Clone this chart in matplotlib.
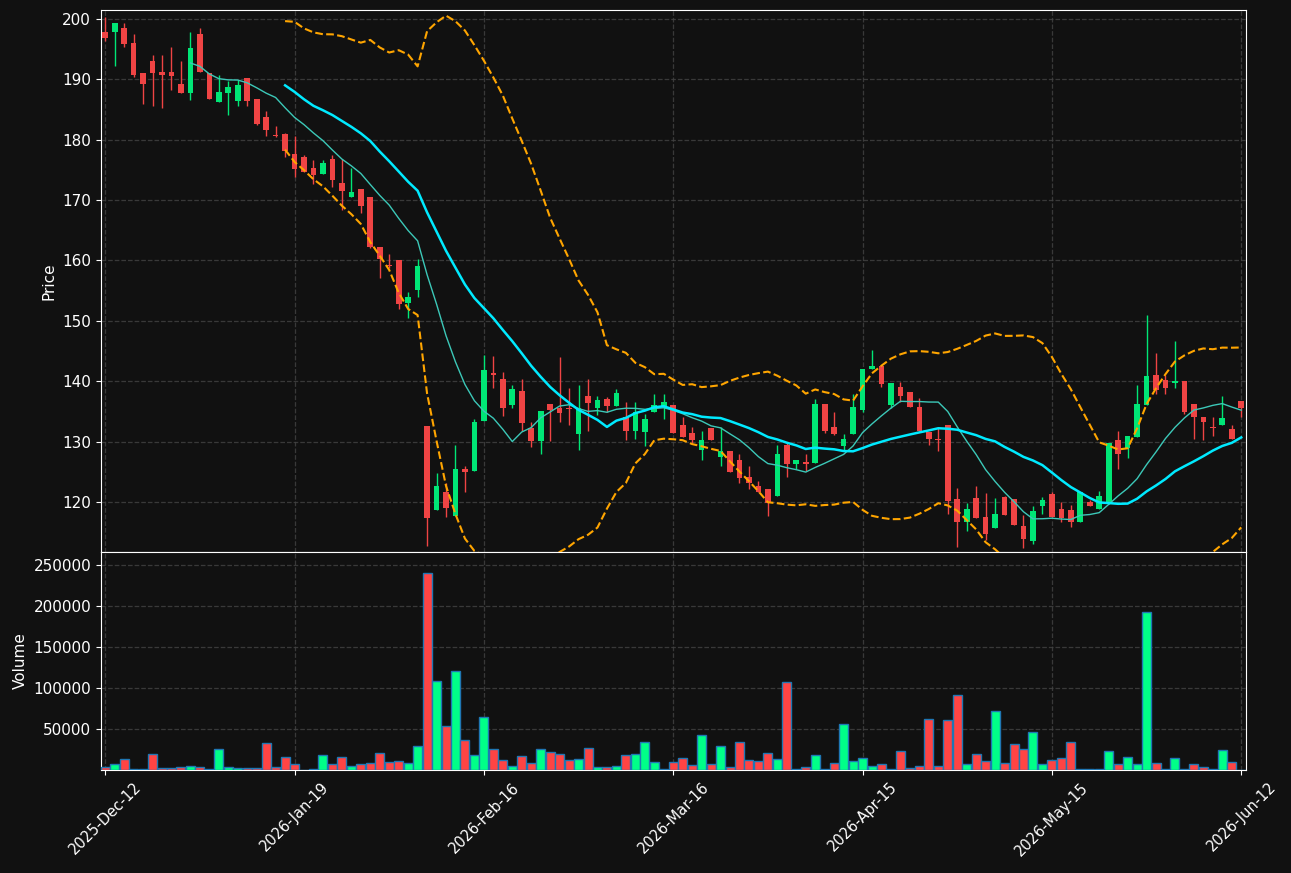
import numpy as np
import matplotlib
matplotlib.use("Agg")
import matplotlib.pyplot as plt

# OHLC + volume, one entry per session
opens = [197.9, 197.8, 198.5, 196.0, 191.0, 193.0, 191.3, 191.3, 189.2, 187.8,
         197.5, 191.0, 186.2, 187.7, 186.4, 190.2, 186.7, 183.7, 180.8, 181.0,
         177.6, 177.2, 175.4, 174.3, 176.9, 172.8, 170.5, 171.8, 170.6, 162.2,
         159.3, 160.1, 152.9, 155.1, 132.5, 118.6, 121.7, 117.6, 125.5, 125.2,
         133.4, 141.4, 140.4, 136.1, 138.4, 132.3, 130.1, 136.2, 135.6, 135.6,
         131.3, 137.6, 135.6, 137.0, 135.9, 134.0, 131.8, 131.6, 134.9, 135.9,
         136.1, 132.8, 131.4, 128.6, 132.3, 127.5, 128.5, 127.0, 124.1, 122.7,
         122.1, 121.0, 129.4, 126.2, 126.6, 126.5, 136.2, 132.4, 129.3, 131.3,
         135.2, 142.0, 142.5, 136.0, 139.0, 138.2, 135.7, 131.6, 130.4, 132.7,
         120.4, 116.7, 120.6, 117.5, 115.7, 120.8, 120.4, 116.0, 113.6, 119.4,
         121.3, 118.9, 118.7, 116.6, 120.0, 118.9, 119.6, 130.2, 128.9, 130.8,
         136.1, 141.0, 140.2, 139.7, 140.1, 136.2, 134.0, 132.4, 132.8, 132.0,
         136.8]
highs = [200.3, 199.3, 199.3, 197.5, 191.0, 194.0, 194.0, 195.4, 193.1, 197.9,
         198.5, 191.0, 190.8, 189.7, 189.9, 190.2, 186.7, 184.8, 182.3, 181.2,
         180.6, 177.4, 176.6, 176.6, 177.4, 176.9, 175.3, 171.8, 170.6, 162.2,
         161.0, 160.1, 154.8, 160.2, 132.5, 124.8, 123.1, 129.5, 125.9, 133.7,
         144.4, 144.2, 141.5, 139.3, 140.3, 133.3, 135.1, 136.2, 144.0, 138.8,
         139.3, 140.3, 137.5, 137.3, 138.7, 136.6, 136.6, 134.5, 137.9, 137.9,
         136.1, 134.0, 132.4, 131.7, 132.3, 132.4, 128.5, 127.9, 126.0, 123.5,
         122.1, 129.4, 129.7, 127.0, 127.9, 137.1, 136.2, 134.9, 131.3, 137.9,
         142.0, 145.2, 142.5, 139.7, 139.9, 138.2, 137.2, 131.6, 132.2, 132.7,
         122.3, 119.9, 122.7, 121.5, 120.6, 121.0, 120.4, 117.8, 119.4, 120.8,
         121.7, 120.0, 119.5, 121.6, 120.3, 121.8, 129.8, 131.8, 131.0, 139.4,
         151.0, 144.7, 141.1, 146.7, 140.1, 136.2, 134.0, 134.0, 137.6, 132.8,
         136.8]
lows = [196.3, 192.2, 195.3, 190.4, 186.0, 185.6, 185.2, 188.2, 187.8, 186.6,
        191.2, 186.7, 186.2, 184.1, 185.6, 185.6, 182.4, 180.7, 180.4, 177.2,
        173.8, 174.7, 172.6, 174.3, 172.2, 168.4, 170.5, 167.8, 162.1, 157.1,
        158.7, 152.0, 150.5, 154.0, 112.7, 118.6, 117.5, 117.6, 121.7, 125.2,
        133.4, 138.9, 134.3, 135.6, 131.8, 129.1, 128.0, 130.1, 133.3, 132.7,
        128.6, 131.8, 134.4, 134.9, 135.9, 130.3, 130.4, 129.3, 134.9, 133.8,
        131.4, 130.7, 129.7, 127.0, 130.2, 125.9, 124.9, 123.1, 122.1, 121.7,
        117.6, 121.0, 124.1, 125.5, 125.1, 126.5, 131.4, 131.1, 128.6, 131.3,
        134.9, 142.0, 139.1, 135.6, 136.6, 135.8, 131.8, 129.4, 128.4, 118.0,
        112.6, 115.1, 117.4, 113.7, 115.7, 117.9, 116.1, 112.3, 113.0, 118.0,
        117.5, 116.7, 115.9, 116.6, 119.3, 118.9, 119.6, 125.5, 127.2, 130.8,
        136.1, 137.9, 137.9, 138.9, 134.6, 130.5, 130.2, 130.9, 132.8, 130.5,
        134.1]
closes = [196.8, 199.3, 195.8, 190.8, 189.3, 191.0, 190.8, 190.5, 187.8, 195.2,
          191.2, 186.7, 188.0, 188.8, 189.0, 186.4, 182.6, 181.6, 180.6, 178.2,
          175.2, 174.7, 174.2, 176.1, 173.4, 171.5, 171.3, 169.0, 162.3, 160.2,
          159.1, 152.8, 153.9, 159.1, 117.3, 122.7, 119.0, 125.5, 124.9, 133.3,
          141.9, 141.1, 135.6, 138.7, 133.1, 130.1, 135.1, 135.3, 134.7, 135.4,
          135.6, 136.4, 136.9, 135.9, 138.1, 131.8, 134.9, 133.7, 136.1, 136.6,
          131.4, 130.7, 130.3, 130.3, 130.2, 128.5, 124.9, 123.9, 123.1, 121.7,
          119.9, 128.0, 126.2, 127.0, 126.2, 136.2, 131.8, 131.3, 130.4, 135.7,
          142.0, 142.5, 139.6, 139.7, 137.5, 135.8, 131.8, 130.5, 130.3, 120.1,
          116.6, 118.8, 117.4, 114.6, 118.0, 117.9, 116.1, 113.9, 118.5, 120.3,
          117.5, 117.4, 116.6, 121.6, 119.3, 121.0, 129.8, 128.0, 131.0, 136.2,
          140.8, 138.5, 138.9, 140.0, 134.9, 134.1, 133.3, 132.3, 133.9, 130.5,
          135.6]
volumes = [4000, 6900, 13000, 1600, 1600, 19100, 2800, 2800, 4000, 5300,
           4000, 1600, 25200, 4000, 2800, 2800, 2800, 32500, 4000, 15400,
           6900, 500, 1600, 17900, 6900, 15400, 5300, 6900, 8100, 20300,
           9300, 10600, 8100, 28900, 239800, 108100, 53300, 120300, 36200, 17900,
           64200, 26000, 11800, 5300, 16700, 8100, 25200, 21500, 19100, 11800,
           13000, 26400, 4000, 4000, 5300, 17900, 19100, 33700, 9300, 800,
           9300, 14200, 5700, 42300, 6900, 28900, 3300, 33700, 11800, 10600,
           20300, 13000, 106900, 1200, 4000, 17900, 1600, 8100, 55700, 10600,
           14200, 4500, 6900, 1600, 22800, 2800, 5300, 61800, 5300, 60600,
           91100, 6900, 19100, 10600, 71500, 8100, 31300, 25200, 45900, 6900,
           11800, 14200, 33700, 800, 800, 1600, 22800, 6900, 15400, 6900,
           192300, 8100, 1600, 14200, 1600, 6900, 3300, 1600, 24000, 9300,
           500]

date_ticks = [0, 20, 40, 60, 80, 100, 120]
date_labels = ["2025-Dec-12", "2026-Jan-19", "2026-Feb-16", "2026-Mar-16",
               "2026-Apr-15", "2026-May-15", "2026-Jun-12"]

BG = "#111111"
UP = "#00e676"
DOWN = "#ef4444"
VUP = "#00ff88"
VDOWN = "#ff4444"

o = np.array(opens)
h = np.array(highs)
l = np.array(lows)
c = np.array(closes)
v = np.array(volumes)
x = np.arange(len(c))
up = c >= o


def rolling_mean(a, n):
    out = np.full(len(a), np.nan)
    for i in range(n - 1, len(a)):
        out[i] = a[i - n + 1:i + 1].mean()
    return out


def rolling_std(a, n):
    out = np.full(len(a), np.nan)
    for i in range(n - 1, len(a)):
        out[i] = a[i - n + 1:i + 1].std()
    return out


ma10 = rolling_mean(c, 10)
ma20 = rolling_mean(c, 20)
sd20 = rolling_std(c, 20)
bb_up = ma20 + 2 * sd20
bb_lo = ma20 - 2 * sd20

fig = plt.figure(figsize=(12.91, 8.73), dpi=100, facecolor=BG)
ax = fig.add_axes([0.0782, 0.3677, 0.8869, 0.6208], facecolor=BG)
axv = fig.add_axes([0.0782, 0.1180, 0.8869, 0.2497], facecolor=BG, sharex=ax)

# candles
ccol = np.where(up, UP, DOWN)
ax.vlines(x, l, h, colors=ccol, linewidth=1, zorder=2)
body = np.maximum(np.abs(c - o), 0.15)
ax.bar(x, body, bottom=np.minimum(o, c), width=0.6, color=ccol, zorder=3)

ax.plot(x, ma10, color="#3cc8b8", linewidth=1, zorder=4)
ax.plot(x, ma20, color="#00eaff", linewidth=1.8, zorder=4)
ax.plot(x, bb_up, color="orange", linestyle="--", linewidth=1.5, zorder=4)
ax.plot(x, bb_lo, color="orange", linestyle="--", linewidth=1.5, zorder=4)

ax.set_ylim(111.7, 201.5)
ax.set_xlim(-0.45, 120.5)
ax.set_ylabel("Price", color="white", fontsize=11)

# volume
vcol = np.where(up, VUP, VDOWN)
axv.bar(x, v, width=0.95, color=vcol, edgecolor="#1f77b4", linewidth=1, zorder=3)
axv.set_ylim(0, 266000)
axv.set_yticks([50000, 100000, 150000, 200000, 250000])
axv.set_ylabel("Volume", color="white", fontsize=11)

axv.set_xticks(date_ticks)
axv.set_xticklabels(date_labels, rotation=45, ha="center", fontsize=10.5)
plt.setp(ax.get_xticklabels(), visible=False)

for a in (ax, axv):
    a.grid(True, linestyle="--", color="#444444", linewidth=0.9, alpha=0.8)
    a.set_axisbelow(True)
    a.tick_params(colors="white")
    a.tick_params(axis="y", labelsize=11)
    for s in a.spines.values():
        s.set_color("white")

fig.savefig("out.png", dpi=100, facecolor=BG)
